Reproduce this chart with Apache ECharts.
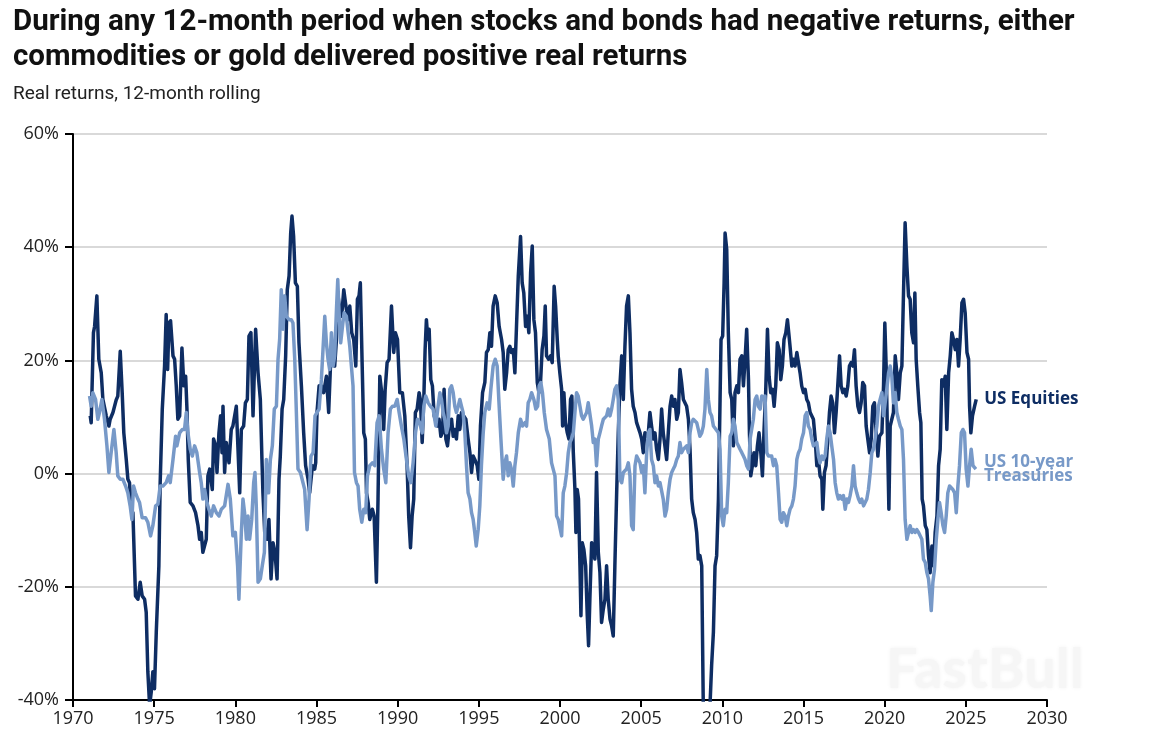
<!DOCTYPE html>
<html>
<head>
<meta charset="utf-8">
<title>Real returns, 12-month rolling</title>
<script src="https://cdn.jsdelivr.net/npm/echarts@6/dist/echarts.min.js"></script>
<style>
  html, body { margin: 0; padding: 0; background: #fff; }
  #chart { width: 1154px; height: 744px; }
</style>
</head>
<body>
<div id="chart"></div>
<script>
// US Equities, real 12-month rolling return (%)
const equityYears = [
  1971.06, 1971.12, 1971.26, 1971.33, 1971.47, 1971.59, 1971.74, 1971.84, 1972.05, 1972.21,
  1972.29, 1972.46, 1972.56, 1972.66, 1972.76, 1972.91, 1973.03, 1973.13, 1973.28, 1973.38,
  1973.48, 1973.59, 1973.69, 1973.85, 1974.00, 1974.14, 1974.26, 1974.41, 1974.51, 1974.61,
  1974.72, 1974.82, 1974.92, 1975.02, 1975.13, 1975.29, 1975.37, 1975.50, 1975.64, 1975.74,
  1975.83, 1975.91, 1976.01, 1976.16, 1976.26, 1976.36, 1976.46, 1976.57, 1976.71, 1976.83,
  1976.94, 1977.02, 1977.10, 1977.22, 1977.39, 1977.55, 1977.70, 1977.80, 1977.90, 1978.00,
  1978.11, 1978.21, 1978.31, 1978.42, 1978.58, 1978.66, 1978.79, 1978.87, 1978.99, 1979.09,
  1979.18, 1979.24, 1979.34, 1979.44, 1979.61, 1979.75, 1979.85, 1980.06, 1980.16, 1980.27,
  1980.37, 1980.51, 1980.62, 1980.74, 1980.84, 1980.96, 1981.09, 1981.25, 1981.40, 1981.54,
  1981.64, 1981.70, 1981.81, 1981.95, 1982.07, 1982.20, 1982.32, 1982.44, 1982.57, 1982.69,
  1982.77, 1982.88, 1982.98, 1983.10, 1983.20, 1983.31, 1983.41, 1983.49, 1983.59, 1983.70,
  1983.82, 1983.92, 1984.07, 1984.21, 1984.33, 1984.48, 1984.58, 1984.75, 1984.89, 1984.95,
  1985.03, 1985.16, 1985.30, 1985.44, 1985.61, 1985.75, 1985.86, 1986.02, 1986.12, 1986.23,
  1986.33, 1986.43, 1986.55, 1986.68, 1986.84, 1986.97, 1987.05, 1987.17, 1987.29, 1987.42,
  1987.52, 1987.62, 1987.70, 1987.81, 1987.91, 1988.01, 1988.08, 1988.18, 1988.28, 1988.44,
  1988.55, 1988.69, 1988.79, 1988.90, 1989.02, 1989.14, 1989.23, 1989.35, 1989.47, 1989.62,
  1989.76, 1989.86, 1989.99, 1990.13, 1990.29, 1990.44, 1990.58, 1990.68, 1990.79, 1990.89,
  1990.99, 1991.09, 1991.20, 1991.32, 1991.40, 1991.51, 1991.61, 1991.69, 1991.77, 1991.86,
  1991.94, 1992.04, 1992.14, 1992.25, 1992.35, 1992.45, 1992.55, 1992.66, 1992.76, 1992.86,
  1992.97, 1993.07, 1993.17, 1993.32, 1993.42, 1993.52, 1993.62, 1993.73, 1993.83, 1993.93,
  1994.03, 1994.20, 1994.34, 1994.45, 1994.55, 1994.65, 1994.75, 1994.90, 1995.00, 1995.10,
  1995.23, 1995.37, 1995.47, 1995.58, 1995.68, 1995.78, 1995.88, 1996.01, 1996.13, 1996.25,
  1996.40, 1996.50, 1996.60, 1996.71, 1996.81, 1996.91, 1997.01, 1997.12, 1997.22, 1997.32,
  1997.43, 1997.57, 1997.67, 1997.77, 1997.88, 1997.98, 1998.08, 1998.19, 1998.29, 1998.39,
  1998.49, 1998.60, 1998.70, 1998.80, 1998.90, 1999.01, 1999.09, 1999.17, 1999.30, 1999.42,
  1999.52, 1999.64, 1999.73, 1999.83, 1999.89, 1999.99, 2000.10, 2000.16, 2000.24, 2000.34,
  2000.45, 2000.55, 2000.65, 2000.73, 2000.82, 2000.92, 2000.98, 2001.06, 2001.14, 2001.23,
  2001.29, 2001.37, 2001.47, 2001.58, 2001.68, 2001.76, 2001.84, 2001.95, 2002.05, 2002.15,
  2002.25, 2002.36, 2002.46, 2002.56, 2002.67, 2002.77, 2002.87, 2002.97, 2003.08, 2003.18,
  2003.28, 2003.38, 2003.49, 2003.59, 2003.69, 2003.80, 2003.90, 2004.00, 2004.10, 2004.21,
  2004.31, 2004.41, 2004.51, 2004.62, 2004.72, 2004.82, 2004.93, 2005.03, 2005.13, 2005.23,
  2005.34, 2005.44, 2005.54, 2005.64, 2005.75, 2005.85, 2005.95, 2006.06, 2006.16, 2006.26,
  2006.36, 2006.47, 2006.57, 2006.67, 2006.78, 2006.88, 2006.98, 2007.08, 2007.19, 2007.29,
  2007.39, 2007.49, 2007.60, 2007.70, 2007.80, 2007.91, 2008.01, 2008.11, 2008.21, 2008.32,
  2008.42, 2008.52, 2008.62, 2008.73, 2008.83, 2008.93, 2009.08, 2009.24, 2009.34, 2009.45,
  2009.55, 2009.65, 2009.76, 2009.86, 2009.92, 2010.02, 2010.11, 2010.17, 2010.27, 2010.37,
  2010.48, 2010.58, 2010.68, 2010.78, 2010.89, 2010.99, 2011.09, 2011.20, 2011.30, 2011.40,
  2011.50, 2011.61, 2011.67, 2011.75, 2011.85, 2011.95, 2012.06, 2012.16, 2012.26, 2012.37,
  2012.47, 2012.57, 2012.67, 2012.78, 2012.88, 2012.98, 2013.09, 2013.19, 2013.29, 2013.39,
  2013.50, 2013.60, 2013.70, 2013.80, 2013.91, 2014.01, 2014.09, 2014.17, 2014.28, 2014.38,
  2014.48, 2014.59, 2014.69, 2014.79, 2014.89, 2015.00, 2015.10, 2015.20, 2015.30, 2015.41,
  2015.51, 2015.61, 2015.72, 2015.82, 2015.92, 2016.02, 2016.13, 2016.19, 2016.29, 2016.39,
  2016.50, 2016.60, 2016.70, 2016.80, 2016.91, 2017.01, 2017.11, 2017.22, 2017.32, 2017.42,
  2017.52, 2017.63, 2017.73, 2017.83, 2017.93, 2018.04, 2018.14, 2018.24, 2018.35, 2018.45,
  2018.55, 2018.65, 2018.76, 2018.86, 2018.96, 2019.07, 2019.17, 2019.27, 2019.37, 2019.48,
  2019.58, 2019.68, 2019.83, 2019.93, 2020.01, 2020.09, 2020.17, 2020.26, 2020.34, 2020.44,
  2020.54, 2020.65, 2020.75, 2020.85, 2020.96, 2021.06, 2021.16, 2021.26, 2021.37, 2021.47,
  2021.57, 2021.67, 2021.78, 2021.86, 2021.94, 2022.04, 2022.15, 2022.23, 2022.31, 2022.39,
  2022.50, 2022.60, 2022.70, 2022.80, 2022.91, 2023.01, 2023.11, 2023.22, 2023.32, 2023.42,
  2023.52, 2023.63, 2023.73, 2023.83, 2023.94, 2024.04, 2024.14, 2024.24, 2024.35, 2024.45,
  2024.55, 2024.65, 2024.76, 2024.86, 2024.96, 2025.07, 2025.17, 2025.23, 2025.31, 2025.41,
  2025.54, 2025.64
]
const equityReturns = [
  10.2, 9.0, 24.9, 26.0, 31.4, 20.2, 17.8, 13.1, 10.2, 8.4,
  9.6, 10.8, 11.9, 13.0, 13.7, 21.6, 14.3, 7.2, 2.5, -1.0,
  -1.6, -6.3, -6.9, -21.6, -22.2, -19.2, -21.6, -22.2, -24.5, -35.0,
  -41.0, -38.6, -35.0, -38.0, -28.0, -16.3, -1.6, 11.4, 19.0, 28.1,
  18.4, 26.6, 27.0, 20.8, 20.2, 15.5, 9.6, 10.2, 22.2, 15.5,
  17.2, 11.4, 2.5, -5.1, -5.7, -6.9, -9.2, -11.6, -10.4, -13.9,
  -14.2, -11.6, -0.4, 0.8, -2.8, 6.1, 4.9, 0.2, 7.2, 10.2,
  3.7, 11.9, 0.2, 5.5, 1.9, 7.8, 8.4, 11.9, 11.9, -3.4,
  7.8, 8.4, 12.5, 13.1, 24.3, 24.9, 10.2, 25.5, 17.8, 13.1,
  2.5, -3.4, -10.4, -11.6, -8.1, -18.6, -12.2, -13.9, -18.6, -1.0,
  3.1, 11.4, 13.1, 20.8, 32.5, 34.9, 42.5, 45.5, 41.9, 33.7,
  33.1, 23.1, 15.5, 7.2, 1.4, -1.0, -3.4, 1.4, 0.8, 1.9,
  10.8, 15.5, 15.5, 14.3, 17.2, 10.8, 19.0, 21.4, 19.0, 23.7,
  31.4, 29.0, 27.8, 32.5, 29.0, 27.2, 29.6, 24.9, 23.7, 19.0,
  30.8, 31.4, 33.7, 19.6, 7.2, 6.1, -3.4, -5.1, -8.1, -6.3,
  -7.5, -19.2, -4.5, 17.2, 14.3, 7.8, 14.9, 19.6, 20.2, 29.6,
  21.4, 24.9, 23.7, 14.3, 14.3, 10.2, 1.4, -7.5, -13.1, -7.5,
  -4.5, 10.8, 11.4, 14.3, 13.1, 5.5, 13.1, 21.9, 27.2, 23.7,
  25.5, 16.6, 15.5, 10.2, 10.2, 8.4, 9.6, 6.6, 7.2, 14.9,
  6.1, 4.9, 7.8, 9.6, 6.6, 7.8, 6.1, 10.2, 7.8, 10.8,
  10.8, 9.6, 6.1, 3.7, 0.2, 3.1, 2.5, 1.4, -1.0, 8.4,
  14.3, 16.1, 21.4, 21.9, 24.9, 22.5, 29.6, 31.4, 30.2, 26.0,
  23.7, 21.4, 14.9, 17.8, 21.9, 22.5, 21.4, 21.9, 17.8, 26.0,
  34.9, 41.9, 33.7, 31.9, 26.0, 27.8, 24.9, 35.5, 40.2, 27.2,
  24.9, 16.1, 14.3, 16.1, 21.9, 24.3, 29.6, 20.8, 20.2, 20.8,
  19.6, 33.1, 29.6, 23.7, 20.8, 17.8, 14.9, 8.4, 14.3, 9.0,
  7.2, 6.1, 13.1, 13.7, 3.7, -2.8, -10.4, -2.8, -4.5, -16.3,
  -25.1, -12.2, -13.4, -16.3, -25.1, -30.4, -22.2, -12.2, -12.2, -15.1,
  0.2, -13.9, -17.5, -26.3, -23.9, -22.2, -16.3, -22.2, -25.7, -26.9,
  -28.7, -16.3, -3.4, 7.2, 15.5, 20.8, 13.1, 22.5, 29.6, 31.4,
  24.9, 14.9, 11.9, 10.8, 9.0, 9.0, 7.2, 6.1, 3.7, 7.2,
  6.6, 7.2, 10.8, 8.4, 6.1, 7.2, 4.3, 2.5, 6.1, 11.4,
  7.2, 7.2, 2.5, 7.2, 11.9, 13.7, 11.9, 13.1, 9.6, 10.8,
  18.4, 16.1, 13.1, 13.1, 11.9, 9.6, 4.3, -4.5, -6.9, -8.1,
  -10.4, -15.1, -14.5, -16.3, -42.0, -43.0, -43.0, -41.0, -33.9, -28.0,
  -16.3, -14.5, -4.5, 13.1, 23.7, 24.3, 33.7, 42.5, 39.6, 24.9,
  14.3, 13.1, 4.9, 14.3, 15.5, 14.3, 20.2, 20.8, 15.5, 20.2,
  25.5, 16.6, 7.2, -0.4, 1.4, 3.7, 1.4, 4.9, 7.2, 3.7,
  -0.4, 7.8, 14.3, 25.5, 17.2, 14.3, 14.9, 11.9, 15.5, 23.1,
  21.9, 16.6, 19.0, 23.7, 24.9, 27.2, 24.9, 22.5, 19.0, 20.2,
  19.0, 21.4, 21.4, 17.8, 15.5, 14.3, 14.9, 13.1, 12.5, 10.8,
  10.8, 9.6, 6.1, 1.4, 2.5, -0.4, -1.0, -6.3, 0.2, 1.4,
  6.1, 10.8, 13.7, 12.5, 7.2, 10.8, 15.5, 20.8, 15.5, 14.3,
  14.9, 13.7, 15.5, 19.0, 19.6, 19.0, 21.9, 15.5, 11.9, 10.8,
  12.5, 16.1, 15.5, 8.4, 6.1, 3.7, 6.1, 11.9, 12.5, 7.2,
  3.1, 6.6, 7.2, 15.5, 26.6, 19.0, 7.2, -6.3, 8.4, 9.6,
  10.8, 20.8, 17.8, 13.1, 17.8, 19.0, 31.9, 44.3, 36.6, 31.4,
  30.8, 24.9, 23.1, 31.9, 20.2, 15.5, 10.8, 9.0, -4.5, -5.7,
  -9.2, -9.9, -14.5, -17.5, -12.8, -16.3, -10.4, -7.5, 1.4, 4.3,
  16.6, 15.5, 17.2, 7.8, 17.8, 20.8, 24.9, 23.7, 21.9, 23.7,
  19.0, 23.7, 30.2, 30.8, 28.4, 21.4, 20.2, 11.9, 7.2, 10.2,
  11.9, 13.1
]

// US 10-year Treasuries, real 12-month rolling return (%)
const treasuryYears = [
  1971.02, 1971.12, 1971.22, 1971.39, 1971.53, 1971.63, 1971.78, 1971.94, 1972.09, 1972.21,
  1972.35, 1972.52, 1972.66, 1972.76, 1972.91, 1973.07, 1973.24, 1973.38, 1973.52, 1973.63,
  1973.73, 1973.85, 1974.00, 1974.10, 1974.26, 1974.47, 1974.61, 1974.78, 1974.92, 1975.09,
  1975.23, 1975.37, 1975.54, 1975.74, 1975.89, 1975.99, 1976.16, 1976.32, 1976.40, 1976.57,
  1976.73, 1976.87, 1976.98, 1977.08, 1977.22, 1977.35, 1977.49, 1977.63, 1977.80, 1977.90,
  1978.00, 1978.11, 1978.25, 1978.37, 1978.52, 1978.66, 1978.83, 1978.99, 1979.14, 1979.34,
  1979.55, 1979.69, 1979.85, 1980.00, 1980.14, 1980.22, 1980.37, 1980.47, 1980.57, 1980.68,
  1980.78, 1980.88, 1981.01, 1981.13, 1981.21, 1981.29, 1981.40, 1981.54, 1981.66, 1981.79,
  1981.91, 1982.05, 1982.16, 1982.28, 1982.40, 1982.53, 1982.63, 1982.73, 1982.83, 1982.94,
  1983.04, 1983.14, 1983.31, 1983.45, 1983.55, 1983.66, 1983.76, 1983.86, 1984.01, 1984.13,
  1984.27, 1984.42, 1984.54, 1984.66, 1984.79, 1984.91, 1985.03, 1985.16, 1985.30, 1985.40,
  1985.51, 1985.61, 1985.71, 1985.81, 1985.92, 1986.02, 1986.12, 1986.23, 1986.31, 1986.39,
  1986.49, 1986.60, 1986.70, 1986.84, 1986.95, 1987.05, 1987.15, 1987.25, 1987.34, 1987.46,
  1987.56, 1987.66, 1987.79, 1987.91, 1988.03, 1988.14, 1988.28, 1988.44, 1988.59, 1988.73,
  1988.86, 1989.00, 1989.14, 1989.27, 1989.41, 1989.55, 1989.68, 1989.82, 1989.97, 1990.09,
  1990.23, 1990.38, 1990.54, 1990.68, 1990.81, 1990.95, 1991.10, 1991.22, 1991.36, 1991.51,
  1991.61, 1991.73, 1991.88, 1992.02, 1992.18, 1992.35, 1992.49, 1992.60, 1992.70, 1992.80,
  1992.90, 1993.01, 1993.11, 1993.21, 1993.32, 1993.42, 1993.52, 1993.62, 1993.73, 1993.83,
  1993.93, 1994.03, 1994.14, 1994.24, 1994.34, 1994.45, 1994.55, 1994.65, 1994.75, 1994.84,
  1994.96, 1995.06, 1995.16, 1995.27, 1995.37, 1995.51, 1995.64, 1995.74, 1995.88, 1996.01,
  1996.13, 1996.23, 1996.36, 1996.50, 1996.60, 1996.71, 1996.81, 1996.91, 1997.01, 1997.12,
  1997.22, 1997.32, 1997.43, 1997.57, 1997.69, 1997.84, 1997.94, 1998.04, 1998.14, 1998.25,
  1998.39, 1998.51, 1998.62, 1998.72, 1998.82, 1998.92, 1999.03, 1999.17, 1999.34, 1999.48,
  1999.58, 1999.69, 1999.79, 1999.89, 1999.99, 2000.10, 2000.20, 2000.30, 2000.41, 2000.51,
  2000.61, 2000.71, 2000.82, 2000.92, 2001.02, 2001.12, 2001.23, 2001.33, 2001.43, 2001.54,
  2001.64, 2001.74, 2001.84, 2001.95, 2002.05, 2002.15, 2002.25, 2002.36, 2002.46, 2002.56,
  2002.67, 2002.77, 2002.87, 2002.97, 2003.08, 2003.18, 2003.28, 2003.38, 2003.49, 2003.59,
  2003.69, 2003.80, 2003.90, 2004.00, 2004.10, 2004.21, 2004.31, 2004.41, 2004.51, 2004.62,
  2004.72, 2004.82, 2004.93, 2005.03, 2005.13, 2005.23, 2005.34, 2005.44, 2005.54, 2005.64,
  2005.75, 2005.85, 2005.95, 2006.06, 2006.16, 2006.26, 2006.36, 2006.47, 2006.57, 2006.67,
  2006.78, 2006.88, 2006.98, 2007.08, 2007.19, 2007.29, 2007.39, 2007.49, 2007.60, 2007.70,
  2007.80, 2007.91, 2008.01, 2008.11, 2008.21, 2008.32, 2008.42, 2008.52, 2008.62, 2008.73,
  2008.83, 2008.93, 2009.04, 2009.14, 2009.24, 2009.34, 2009.45, 2009.61, 2009.76, 2009.86,
  2009.96, 2010.06, 2010.17, 2010.27, 2010.37, 2010.48, 2010.58, 2010.68, 2010.78, 2010.89,
  2010.99, 2011.09, 2011.20, 2011.30, 2011.40, 2011.50, 2011.61, 2011.71, 2011.81, 2011.91,
  2012.02, 2012.12, 2012.22, 2012.33, 2012.43, 2012.53, 2012.63, 2012.74, 2012.84, 2012.94,
  2013.04, 2013.15, 2013.25, 2013.35, 2013.46, 2013.56, 2013.66, 2013.76, 2013.87, 2013.97,
  2014.07, 2014.17, 2014.28, 2014.38, 2014.48, 2014.59, 2014.69, 2014.79, 2014.89, 2015.00,
  2015.10, 2015.20, 2015.30, 2015.41, 2015.51, 2015.61, 2015.72, 2015.82, 2015.92, 2016.02,
  2016.13, 2016.23, 2016.33, 2016.43, 2016.54, 2016.64, 2016.74, 2016.85, 2016.95, 2017.05,
  2017.15, 2017.26, 2017.36, 2017.46, 2017.57, 2017.67, 2017.77, 2017.87, 2017.98, 2018.08,
  2018.18, 2018.28, 2018.39, 2018.49, 2018.59, 2018.70, 2018.80, 2018.90, 2019.00, 2019.11,
  2019.21, 2019.31, 2019.41, 2019.52, 2019.62, 2019.72, 2019.83, 2019.93, 2020.03, 2020.13,
  2020.24, 2020.34, 2020.44, 2020.54, 2020.65, 2020.75, 2020.85, 2020.96, 2021.06, 2021.16,
  2021.26, 2021.37, 2021.47, 2021.57, 2021.67, 2021.78, 2021.88, 2021.98, 2022.09, 2022.19,
  2022.29, 2022.39, 2022.50, 2022.60, 2022.70, 2022.80, 2022.87, 2022.97, 2023.07, 2023.18,
  2023.28, 2023.38, 2023.48, 2023.59, 2023.69, 2023.79, 2023.89, 2024.00, 2024.10, 2024.20,
  2024.31, 2024.41, 2024.51, 2024.61, 2024.72, 2024.82, 2024.92, 2025.02, 2025.13, 2025.23,
  2025.33, 2025.44, 2025.62
]
const treasuryReturns = [
  13.7, 11.9, 14.3, 13.1, 9.6, 10.8, 13.1, 9.6, 4.9, 0.2,
  3.7, 7.8, 3.7, -0.4, -1.0, -1.0, -2.2, -3.4, -5.7, -8.1,
  -2.2, -3.4, -4.5, -5.1, -7.8, -7.8, -8.6, -11.0, -9.2, -5.7,
  -5.4, -2.2, -2.2, -1.6, -0.4, -1.6, 2.5, 6.6, 4.9, 7.2,
  7.8, 7.8, 10.8, 7.2, 4.3, 3.1, 4.9, 3.7, 0.2, -1.6,
  -4.5, -2.8, -5.1, -6.3, -7.5, -5.7, -6.9, -7.5, -6.3, -5.7,
  -1.9, -4.5, -11.0, -10.4, -16.3, -22.2, -10.4, -4.5, -6.9, -11.6,
  -7.5, -11.6, -8.1, -1.6, 0.2, -5.7, -19.2, -18.6, -16.3, -13.9,
  2.5, -3.4, 2.5, 4.9, 11.4, 11.9, 20.2, 23.7, 32.5, 25.5,
  31.4, 27.8, 27.2, 27.2, 26.6, 20.2, 10.8, 0.8, 0.2, 0.2,
  -2.8, -9.9, -4.5, 3.1, 3.7, 10.2, 10.8, 11.4, 16.6, 21.9,
  27.8, 23.1, 20.2, 18.4, 24.9, 19.0, 20.8, 29.0, 34.3, 28.4,
  23.1, 26.0, 28.4, 27.8, 24.9, 22.5, 19.0, 15.5, 0.2, -1.6,
  -2.2, -6.3, -8.6, -6.3, -6.9, -0.4, 1.4, 1.9, 1.4, 9.0,
  10.2, 4.3, 0.8, -1.6, 7.2, 11.4, 11.9, 11.9, 13.1, 10.8,
  8.4, 6.1, 2.5, -0.4, -1.6, 1.9, 7.2, 9.6, 9.0, 7.2,
  11.9, 13.7, 12.5, 11.9, 11.4, 8.4, 11.9, 14.3, 13.1, 10.8,
  9.6, 7.2, 8.4, 14.9, 15.5, 14.3, 11.9, 10.8, 11.9, 13.1,
  11.9, 10.8, 7.2, 1.4, -3.4, -4.5, -6.9, -8.1, -10.4, -12.8,
  -9.9, -5.7, 1.4, 7.2, 10.8, 12.5, 11.4, 14.9, 19.0, 20.2,
  19.0, 13.1, 6.1, -1.0, 1.9, 3.1, -0.4, 1.9, 0.8, -2.2,
  1.4, 3.7, 7.2, 9.6, 8.4, 9.0, 8.4, 12.5, 13.1, 14.3,
  13.1, 11.4, 11.9, 15.5, 16.1, 14.3, 10.8, 7.8, 6.1, 1.9,
  0.8, -0.4, -7.5, -8.1, -8.1, -11.0, -3.4, -2.2, 0.2, 3.7,
  5.5, 6.1, 7.2, 10.8, 14.3, 13.7, 11.9, 10.2, 9.6, 9.6,
  10.8, 12.5, 12.5, 8.4, 5.5, 6.1, 1.4, 6.1, 7.2, 8.4,
  9.6, 9.6, 10.2, 11.4, 10.2, 11.4, 13.1, 14.9, 15.5, 13.1,
  -1.0, -1.6, 0.2, 0.2, 0.8, 1.9, -0.4, -9.2, -9.9, 1.4,
  3.1, 3.1, 1.9, 0.2, 1.4, -3.4, 3.7, 7.2, 7.8, 2.5,
  1.4, -1.6, -0.4, -2.2, -1.6, -1.6, -4.5, -7.5, -6.3, -3.4,
  -1.0, 0.2, 0.8, 1.4, 2.5, 3.1, 5.5, 3.7, 4.3, 4.3,
  4.9, 3.7, 7.2, 9.0, 9.6, 9.6, 9.0, 7.8, 6.6, 7.2,
  8.4, 11.4, 18.4, 13.1, 10.8, 10.2, 8.4, 7.8, 7.2, 4.3,
  -7.5, -9.2, -6.3, -6.9, -1.6, 6.6, 7.2, 9.6, 8.4, 5.5,
  4.9, 4.3, 3.7, 3.1, 2.5, 1.4, 0.8, 6.1, 6.1, 9.6,
  13.1, 13.7, 11.9, 11.4, 13.7, 13.1, 13.7, 3.7, 3.1, 3.1,
  3.1, 1.4, 2.5, 1.4, -3.4, -8.1, -8.6, -6.9, -7.5, -9.2,
  -7.5, -6.3, -5.7, -4.5, -2.2, 2.5, 3.7, 4.3, 6.1, 7.2,
  10.2, 10.8, 8.4, 7.8, 6.1, 4.9, 4.9, 5.5, 3.1, 1.9,
  3.1, 2.5, 3.1, 6.1, 8.4, 7.2, 4.9, 2.5, -1.6, -3.4,
  -4.5, -3.9, -4.5, -3.9, -6.3, -4.5, -5.1, -3.9, -2.2, 1.4,
  -2.2, -3.4, -4.5, -5.1, -4.5, -5.7, -5.7, -4.5, -2.8, 0.2,
  3.7, 4.3, 6.1, 8.4, 11.9, 13.1, 14.3, 10.2, 12.5, 14.9,
  17.8, 19.0, 17.2, 12.5, 14.3, 10.8, 9.6, 8.4, 7.8, 2.5,
  -8.1, -11.6, -10.4, -9.2, -10.4, -9.9, -10.4, -9.9, -10.4, -10.4,
  -11.6, -15.1, -15.7, -17.5, -18.6, -21.6, -24.2, -19.2, -16.9, -11.6,
  -8.1, -5.1, -6.9, -9.2, -10.4, -7.5, -3.4, -2.2, -2.2, -2.8,
  -3.4, -6.9, -2.2, 1.4, 7.2, 7.8, 7.2, 0.8, -2.2, 1.4,
  4.3, 1.4, 0.8
]

const seriesNames = ['US Equities', 'US 10-year\nTreasuries']
const seriesColors = ['#0e2d63', '#7799c8']

// 年份和数值拼成 [x, y]
const zip = (xs, ys) => {
  if (xs.length !== ys.length) console.warn('length mismatch', xs.length, ys.length)
  return xs.map((x, i) => [x, ys[i]])
}

const chart = echarts.init(document.getElementById('chart'))

const fontText = '"Open Sans", "Noto Sans", sans-serif'
const fontTitle = '"Roboto", "Noto Sans", sans-serif'

const makeLine = (idx, data) => ({
  name: seriesNames[idx],
  type: 'line',
  data: data,
  showSymbol: false,
  symbol: 'none',
  clip: true,
  lineStyle: { color: seriesColors[idx], width: 3.5, join: 'round' },
  itemStyle: { color: seriesColors[idx] },
  endLabel: {
    show: true,
    formatter: seriesNames[idx],
    color: seriesColors[idx],
    fontFamily: fontText,
    fontWeight: 'bold',
    fontSize: 17,
    lineHeight: 14,
    distance: 8
  }
})

const option = {
  animation: false,
  backgroundColor: '#fff',
  title: [
    {
      text: 'During any 12-month period when stocks and bonds had negative returns, either\ncommodities or gold delivered positive real returns',
      left: 13,
      top: 5,
      padding: 0,
      textStyle: {
        fontFamily: fontTitle,
        fontWeight: 'bold',
        fontSize: 29.5,
        lineHeight: 35,
        color: '#111'
      }
    },
    {
      text: 'Real returns, 12-month rolling',
      left: 13,
      top: 83,
      padding: 0,
      textStyle: {
        fontFamily: fontTitle,
        fontWeight: 'normal',
        fontSize: 19,
        lineHeight: 22,
        color: '#222'
      }
    }
  ],
  grid: {
    left: 73,
    right: 107,
    top: 134,
    bottom: 44,
    containLabel: false
  },
  xAxis: {
    type: 'value',
    min: 1970,
    max: 2030,
    interval: 5,
    axisLine: { show: true, onZero: false, lineStyle: { color: '#000', width: 2 } },
    axisTick: { show: true, length: 7, lineStyle: { color: '#000', width: 2 } },
    axisLabel: {
      formatter: v => String(v),
      fontFamily: fontText,
      fontSize: 18,
      color: '#222',
      margin: 10
    },
    splitLine: { show: false }
  },
  yAxis: {
    type: 'value',
    min: -40,
    max: 60,
    interval: 20,
    axisLine: { show: true, onZero: false, lineStyle: { color: '#000', width: 2 } },
    axisTick: { show: true, length: 8, lineStyle: { color: '#000', width: 2 } },
    axisLabel: {
      formatter: v => v + '%',
      fontFamily: fontText,
      fontSize: 18,
      color: '#222',
      margin: 14
    },
    splitLine: { show: true, lineStyle: { color: '#cccccc', width: 1.5 } }
  },
  series: [
    makeLine(0, zip(equityYears, equityReturns)),
    makeLine(1, zip(treasuryYears, treasuryReturns))
  ],
  graphic: [
    {
      type: 'text',
      left: 886,
      top: 642,
      silent: true,
      z: 0,
      style: {
        text: 'FastBull',
        font: 'bold 56px "Lato", "Open Sans", sans-serif',
        fill: '#f6f6f6',
        textShadowColor: 'rgba(0,0,0,0.05)',
        textShadowBlur: 4
      }
    }
  ]
}

chart.setOption(option)

window.addEventListener('resize', () => {
  chart.resize()
})
</script>
</body>
</html>
